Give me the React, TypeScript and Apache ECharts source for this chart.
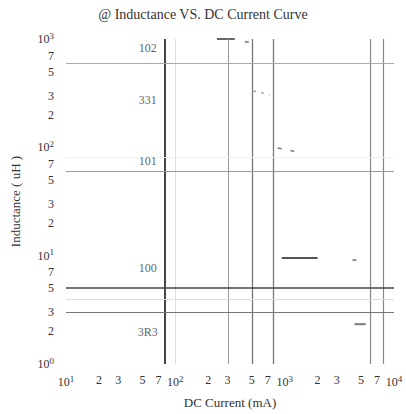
import React, { useEffect, useRef } from "react";
import * as echarts from "echarts";

// ---- data (real units: current in mA, inductance in uH) ----
const xTickValues = [10, 20, 30, 50, 70, 100, 200, 300, 500, 700, 1000, 2000, 3000, 5000, 7000, 10000];
const yTickValues = [1, 2, 3, 5, 7, 10, 20, 30, 50, 70, 100, 200, 300, 500, 700, 1000];

// solid visible segments of the curves
const seg102Current = [240, 350];
const seg102Induct = [1000, 1000];
const seg100Current = [940, 2000];
const seg100Induct = [9.5, 9.5];
const seg3R3Current = [4350, 5500];
const seg3R3Induct = [2.33, 2.33];

// dotted fragments
const frag331Current = [521, 630, 730];
const frag331Induct = [331, 317, 304];
const frag101Current = [863, 1183, 1429];
const frag101Induct = [98.6, 92.5, 88.5];

// isolated dots
const dotCurrent = [450, 4350];
const dotInduct = [940, 9.1];

// part labels
const tagNames = ["102", "331", "101", "100", "3R3"];
const tagCurrent = [56, 56, 56, 56, 56];
const tagInduct = [826, 273, 75, 7.7, 1.97];

// reference lines
const vLineCurrent = [80, 100, 300, 500, 800, 6000, 8000];
const vLineWeight = [2, 1, 1, 1.3, 1.3, 1.2, 1.2];
const vLineColor = ["#444", "#ddd", "#999", "#777", "#777", "#888", "#888"];
const hLineInduct = [600, 81, 60, 5, 4, 3];
const hLineWeight = [1, 1, 1.2, 1.6, 1, 1.2];
const hLineColor = ["#aaa", "#eee", "#999", "#444", "#ddd", "#777"];

const L = (v: number) => Math.log10(v);
const pts = (xs: number[], ys: number[]) => xs.map((x, i) => [L(x), L(ys[i])]);

const FONT = "'Liberation Serif', 'DejaVu Serif', serif";

const fmt = (v: number) => {
  const r = Math.round(v);
  if (Math.abs(v - r) < 1e-6) return `{b|10}{sup|${r}}`;
  const d = Math.round(Math.pow(10, v - Math.floor(v + 1e-9)));
  return `{b|${d}}`;
};

const rich = {
  b: { fontSize: 12, fontFamily: FONT, color: "#333" },
  sup: { fontSize: 9, fontFamily: FONT, color: "#333", padding: [0, 0, 7, 0] },
};

export default function App() {
  const ref = useRef<HTMLDivElement>(null);
  useEffect(() => {
    document.body.style.margin = "0";
    if (!ref.current) return;
    const chart = echarts.init(ref.current, undefined, { renderer: "svg" });
    const lineSeries = (data: number[][], style: any) => ({
      type: "line",
      data,
      symbol: "none",
      clip: false,
      silent: true,
      lineStyle: style,
    });
    chart.setOption({
      animation: false,
      title: {
        text: "@ Inductance VS. DC Current Curve",
        left: "center",
        top: 2,
        textStyle: { fontFamily: FONT, fontSize: 14, fontWeight: "normal", color: "#333" },
      },
      grid: { left: 66, right: 12, top: 39, bottom: 50 },
      xAxis: {
        type: "value",
        min: 1,
        max: 4,
        name: "DC Current (mA)",
        nameLocation: "middle",
        nameGap: 32,
        nameTextStyle: { fontFamily: FONT, fontSize: 13, color: "#333" },
        axisLine: { show: false },
        axisTick: { show: false },
        splitLine: { show: false },
        axisLabel: {
          customValues: xTickValues.map(L),
          formatter: fmt,
          rich,
          margin: 10,
        },
      },
      yAxis: {
        type: "value",
        min: 0,
        max: 3,
        name: "Inductance ( uH )",
        nameLocation: "middle",
        nameGap: 44,
        nameTextStyle: { fontFamily: FONT, fontSize: 13, color: "#333" },
        axisLine: { show: false },
        axisTick: { show: false },
        splitLine: { show: false },
        axisLabel: {
          customValues: yTickValues.map(L),
          formatter: fmt,
          rich,
          margin: 12,
        },
      },
      series: [
        {
          type: "line",
          data: [],
          silent: true,
          markLine: {
            silent: true,
            symbol: "none",
            label: { show: false },
            data: [
              ...vLineCurrent.map((v, i) => ({
                xAxis: L(v),
                lineStyle: { color: vLineColor[i], width: vLineWeight[i], type: "solid" },
              })),
              ...hLineInduct.map((v, i) => ({
                yAxis: L(v),
                lineStyle: { color: hLineColor[i], width: hLineWeight[i], type: "solid" },
              })),
            ],
          },
        },
        lineSeries(pts(seg102Current, seg102Induct), { color: "#666", width: 2 }),
        lineSeries(pts(seg100Current, seg100Induct), { color: "#555", width: 2 }),
        lineSeries(pts(seg3R3Current, seg3R3Induct), { color: "#777", width: 2 }),
        lineSeries(pts(frag331Current, frag331Induct), { color: "#888", width: 1.5, type: [2, 6] }),
        lineSeries(pts(frag101Current, frag101Induct), { color: "#777", width: 1.5, type: [4, 9] }),
        {
          type: "scatter",
          data: pts(dotCurrent, dotInduct),
          symbol: "rect",
          symbolSize: [4, 2],
          itemStyle: { color: "#777" },
          silent: true,
        },
        {
          type: "scatter",
          data: tagNames.map((n, i) => ({ name: n, value: [L(tagCurrent[i]), L(tagInduct[i])] })),
          symbolSize: 1,
          itemStyle: { color: "rgba(0,0,0,0)" },
          silent: true,
          z: 10,
          label: {
            show: true,
            position: "inside",
            formatter: (p: any) => p.name,
            fontFamily: FONT,
            fontSize: 12,
            color: "#333",
            textBorderWidth: 0,
            backgroundColor: "#fff",
          },
        },
      ],
    });
    return () => chart.dispose();
  }, []);
  return <div ref={ref} style={{ width: 406, height: 414 }} />;
}
